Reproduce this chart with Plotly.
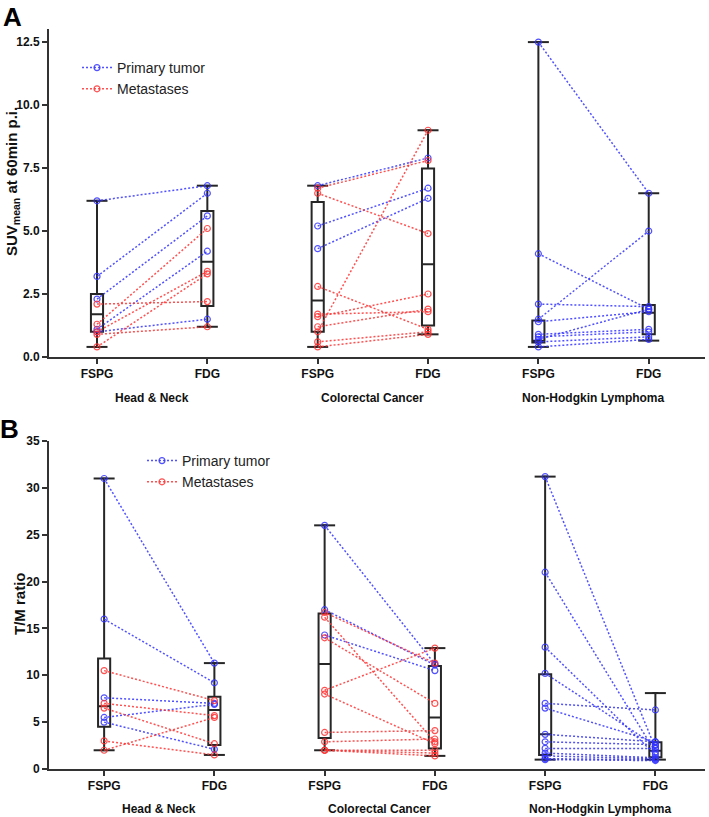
import plotly.graph_objects as go

W, H = 709, 817

groups = ["Head & Neck", "Colorectal Cancer", "Non-Hodgkin Lymphoma"]
tracers = ["FSPG", "FDG"]

# ---------- Panel A: SUVmean at 60 min p.i. ----------
suv_hn_pt_fspg = [6.2, 3.2, 2.3, 1.1, 1.0]
suv_hn_pt_fdg = [6.8, 6.5, 5.6, 4.2, 1.5]
suv_hn_met_fspg = [2.1, 1.3, 1.0, 0.9, 0.4]
suv_hn_met_fdg = [2.2, 5.1, 3.4, 1.2, 3.3]

suv_crc_pt_fspg = [6.8, 5.2, 4.3]
suv_crc_pt_fdg = [7.9, 6.7, 6.3]
suv_crc_met_fspg = [6.7, 6.5, 2.8, 1.7, 1.6, 1.2, 1.0, 0.6, 0.4]
suv_crc_met_fdg = [7.8, 4.9, 1.1, 1.8, 2.5, 1.9, 9.0, 1.0, 0.9]

suv_nhl_pt_fspg = [12.5, 4.1, 2.1, 1.5, 1.4, 0.9, 0.8, 0.7, 0.6, 0.4]
suv_nhl_pt_fdg = [6.5, 1.9, 2.0, 5.0, 1.8, 1.1, 1.0, 1.9, 0.8, 0.7]
suv_nhl_met_fspg = []
suv_nhl_met_fdg = []

# box statistics (order: HN FSPG, HN FDG, CRC FSPG, CRC FDG, NHL FSPG, NHL FDG)
suv_low = [0.4, 1.2, 0.4, 0.9, 0.4, 0.65]
suv_q1 = [1.0, 2.02, 1.0, 1.25, 0.58, 0.9]
suv_med = [1.7, 3.78, 2.24, 3.68, 0.65, 1.76]
suv_q3 = [2.5, 5.8, 6.15, 7.48, 1.45, 2.06]
suv_high = [6.2, 6.8, 6.8, 9.0, 12.5, 6.5]

# ---------- Panel B: T/M ratio ----------
tm_hn_pt_fspg = [31.0, 16.0, 7.6, 5.5, 5.0]
tm_hn_pt_fdg = [11.3, 9.2, 7.0, 6.9, 2.1]
tm_hn_met_fspg = [10.5, 7.0, 6.5, 3.0, 2.0]
tm_hn_met_fdg = [7.3, 5.7, 2.7, 1.5, 5.5]

tm_crc_pt_fspg = [26.0, 17.0, 14.3]
tm_crc_pt_fdg = [11.2, 11.1, 10.5]
tm_crc_met_fspg = [16.7, 16.2, 14.0, 8.4, 8.0, 3.9, 2.9, 2.0, 2.0, 2.0]
tm_crc_met_fdg = [11.3, 2.9, 7.0, 12.9, 2.7, 4.1, 3.2, 2.0, 1.7, 1.4]

tm_nhl_pt_fspg = [31.2, 21.0, 13.0, 10.2, 7.0, 6.5, 3.7, 2.9, 2.2, 1.7, 1.4, 1.1, 1.0]
tm_nhl_pt_fdg = [2.2, 1.8, 1.5, 2.5, 6.3, 2.9, 2.9, 2.6, 2.2, 1.2, 1.1, 1.0, 0.9]
tm_nhl_met_fspg = []
tm_nhl_met_fdg = []

tm_low = [2.0, 1.5, 2.0, 1.4, 1.0, 1.0]
tm_q1 = [4.5, 2.55, 3.3, 2.2, 1.5, 1.25]
tm_med = [6.7, 6.3, 11.2, 5.5, 3.7, 1.95]
tm_q3 = [11.8, 7.7, 16.6, 11.0, 10.1, 2.85]
tm_high = [31.0, 11.3, 26.0, 12.9, 31.2, 8.1]

BLUE = "rgba(50,50,255,0.85)"
RED = "rgba(255,50,50,0.85)"
BOXC = "#262626"
FONT = "Liberation Sans, Arial, sans-serif"

fig = go.Figure()

panels = [
    dict(xa="x", ya="y", legend="legend",
         pt=[(suv_hn_pt_fspg, suv_hn_pt_fdg), (suv_crc_pt_fspg, suv_crc_pt_fdg), (suv_nhl_pt_fspg, suv_nhl_pt_fdg)],
         met=[(suv_hn_met_fspg, suv_hn_met_fdg), (suv_crc_met_fspg, suv_crc_met_fdg), (suv_nhl_met_fspg, suv_nhl_met_fdg)],
         box=(suv_low, suv_q1, suv_med, suv_q3, suv_high)),
    dict(xa="x2", ya="y2", legend="legend2",
         pt=[(tm_hn_pt_fspg, tm_hn_pt_fdg), (tm_crc_pt_fspg, tm_crc_pt_fdg), (tm_nhl_pt_fspg, tm_nhl_pt_fdg)],
         met=[(tm_hn_met_fspg, tm_hn_met_fdg), (tm_crc_met_fspg, tm_crc_met_fdg), (tm_nhl_met_fspg, tm_nhl_met_fdg)],
         box=(tm_low, tm_q1, tm_med, tm_q3, tm_high)),
]

pos = [0, 1, 2, 3, 4, 5]

for p in panels:
    low, q1, med, q3, high = p["box"]
    fig.add_trace(go.Box(
        x=pos, q1=q1, median=med, q3=q3, lowerfence=low, upperfence=high,
        width=0.11, fillcolor="rgba(0,0,0,0)", line=dict(color=BOXC, width=2),
        xaxis=p["xa"], yaxis=p["ya"], showlegend=False, hoverinfo="skip",
    ))
    # whisker caps
    fig.add_trace(go.Scatter(
        x=pos + pos, y=list(low) + list(high), mode="markers",
        marker=dict(symbol="line-ew", size=15, line=dict(color=BOXC, width=2)),
        xaxis=p["xa"], yaxis=p["ya"], showlegend=False, hoverinfo="skip",
    ))
    for key, color, name in [("pt", BLUE, "Primary tumor"), ("met", RED, "Metastases")]:
        xs, ys = [], []
        for gi, (a, b) in enumerate(p[key]):
            for va, vb in zip(a, b):
                xs += [2 * gi, 2 * gi + 1, None]
                ys += [va, vb, None]
        fig.add_trace(go.Scatter(
            x=xs, y=ys, mode="lines+markers", name=name,
            line=dict(color=color, width=1.5, dash="2px,2px"),
            marker=dict(symbol="circle-open", size=6, color=color, line=dict(width=1.2, color=color)),
            xaxis=p["xa"], yaxis=p["ya"], legend=p["legend"], hoverinfo="skip",
        ))

def py(px):
    return 1 - px / H

x0, x1 = 49 / W, 705 / W
axis_common = dict(showline=True, linecolor="#333333", linewidth=2, ticks="outside",
                   ticklen=5, tickwidth=1.5, tickcolor="#333333", showgrid=False, zeroline=False,
                   automargin=False,
                   tickfont=dict(family=FONT, size=12, color="#111111", weight="bold"))

ticktext = [t for _ in groups for t in tracers]

fig.update_layout(
    width=W, height=H, margin=dict(l=0, r=0, t=0, b=0, autoexpand=False),
    paper_bgcolor="white", plot_bgcolor="white", boxmode="overlay",
    font=dict(family=FONT, color="#111111"),
    xaxis=dict(domain=[x0, x1], range=[-0.435, 5.51], tickvals=pos, ticktext=ticktext, anchor="y", **axis_common),
    yaxis=dict(domain=[py(357), py(29)], range=[0, 13.02], tickvals=[0, 2.5, 5, 7.5, 10, 12.5],
               ticktext=["0.0", "2.5", "5.0", "7.5", "10.0", "12.5"], anchor="x", **axis_common),
    xaxis2=dict(domain=[x0, x1], range=[-0.5, 5.45], tickvals=pos, ticktext=ticktext, anchor="y2", **axis_common),
    yaxis2=dict(domain=[py(769), py(441)], range=[0, 35], tickvals=[0, 5, 10, 15, 20, 25, 30, 35], anchor="x2", **axis_common),
    legend=dict(x=77 / W, y=py(52), xanchor="left", yanchor="top", bgcolor="rgba(0,0,0,0)",
                font=dict(family=FONT, size=14, color="#222222"), tracegroupgap=0),
    legend2=dict(x=142 / W, y=py(445), xanchor="left", yanchor="top", bgcolor="rgba(0,0,0,0)",
                 font=dict(family=FONT, size=14, color="#222222"), tracegroupgap=0),
)

annotations = []
for gi, g in enumerate(groups):
    annotations.append(dict(x=2 * gi + 0.5, xref="x", y=py(398), yref="paper", text=g, showarrow=False,
                            font=dict(family=FONT, size=12, color="#111111", weight="bold"), yanchor="middle"))
    annotations.append(dict(x=2 * gi + 0.5, xref="x2", y=py(809), yref="paper", text=g, showarrow=False,
                            font=dict(family=FONT, size=12, color="#111111", weight="bold"), yanchor="middle"))
annotations.append(dict(x=12 / W, y=py(0), xref="paper", yref="paper", text="A", showarrow=False,
                        xanchor="center", yanchor="top", font=dict(family=FONT, size=26, color="#000000", weight="bold")))
annotations.append(dict(x=9 / W, y=py(412), xref="paper", yref="paper", text="B", showarrow=False,
                        xanchor="center", yanchor="top", font=dict(family=FONT, size=26, color="#000000", weight="bold")))
annotations.append(dict(x=12 / W, y=py(182), xref="paper", yref="paper", text="SUV<sub>mean</sub> at 60min p.i.",
                        showarrow=False, textangle=-90, xanchor="center", yanchor="middle",
                        font=dict(family=FONT, size=15, color="#111111", weight="bold")))
annotations.append(dict(x=19 / W, y=py(604), xref="paper", yref="paper", text="T/M ratio",
                        showarrow=False, textangle=-90, xanchor="center", yanchor="middle",
                        font=dict(family=FONT, size=15, color="#111111", weight="bold")))
fig.update_layout(annotations=annotations)

fig.write_html("out.html", config={"displayModeBar": False},
               post_script="document.body.style.margin='0';document.body.style.overflow='hidden';")
